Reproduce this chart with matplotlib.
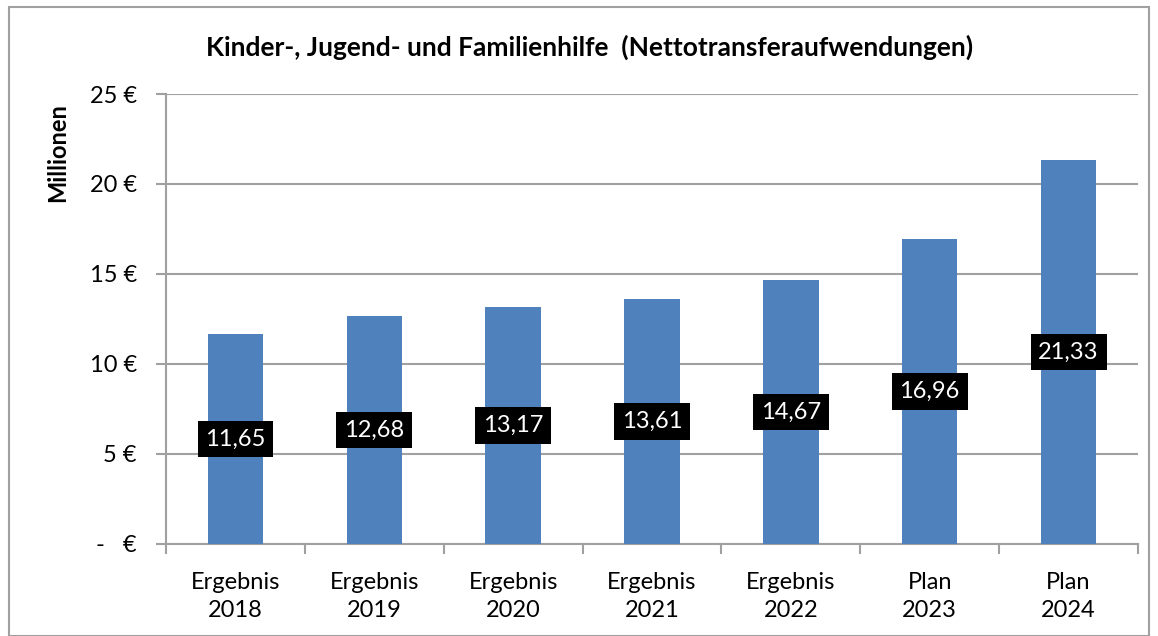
import matplotlib
matplotlib.use('Agg')
from matplotlib import pyplot as plt
from matplotlib.patches import Rectangle

categories = ['Ergebnis\n2018', 'Ergebnis\n2019', 'Ergebnis\n2020', 'Ergebnis\n2021',
              'Ergebnis\n2022', 'Plan\n2023', 'Plan\n2024']
values = [11.65, 12.68, 13.17, 13.61, 14.67, 16.96, 21.33]
yticks = [0, 5, 10, 15, 20, 25]
ytick_labels = ['-   €', '5 €', '10 €', '15 €', '20 €', '25 €']

plt.rcParams['font.family'] = ['Lato', 'DejaVu Sans']

fig = plt.figure(figsize=(11.58, 6.36), dpi=100)
ax = fig.add_axes([0.1434, 0.1447, 0.8393, 0.7075])

x = list(range(len(values)))
ax.bar(x, values, width=0.4, color='#4F81BD', zorder=3)

# labels in the middle of each bar
for xi, v in zip(x, values):
    ax.text(xi, v / 2, f'{v:.2f}'.replace('.', ','), ha='center', va='center',
            color='white', fontsize=17, zorder=4,
            bbox=dict(boxstyle='square,pad=0.33', facecolor='black', edgecolor='none'))

ax.set_xlim(-0.5, len(values) - 0.5)
ax.set_ylim(0, 25)
ax.set_yticks(yticks)
ax.set_yticklabels(ytick_labels, fontsize=17)
ax.yaxis.grid(True, color='#A0A0A0', linewidth=1.5, zorder=0)

ax.set_xticks(x)
ax.set_xticklabels(categories, fontsize=17, linespacing=1.4)
ax.tick_params(axis='x', length=0, pad=20)
ax.set_xticks([i - 0.5 for i in range(len(values) + 1)], minor=True)
ax.tick_params(axis='x', which='minor', length=7, width=1.5, color='#A0A0A0')
ax.tick_params(axis='y', length=7, width=1.5, color='#A0A0A0', pad=14)

for s in ['top', 'right']:
    ax.spines[s].set_visible(False)
for s in ['left', 'bottom']:
    ax.spines[s].set_color('#A0A0A0')
    ax.spines[s].set_linewidth(1.5)

ax.set_ylabel('Millionen', fontsize=17, fontweight='bold')
ax.yaxis.set_label_coords(-0.1, 0.87)
fig.text(0.509, 0.926, 'Kinder-, Jugend- und Familienhilfe  (Nettotransferaufwendungen)',
         ha='center', va='center', fontsize=19, fontweight='bold')

fig.patches.append(Rectangle((0.008, 0.0), 0.984, 0.989, transform=fig.transFigure,
                             fill=False, edgecolor='#A0A0A0', linewidth=1.5))

fig.savefig('out.png', dpi=100)
